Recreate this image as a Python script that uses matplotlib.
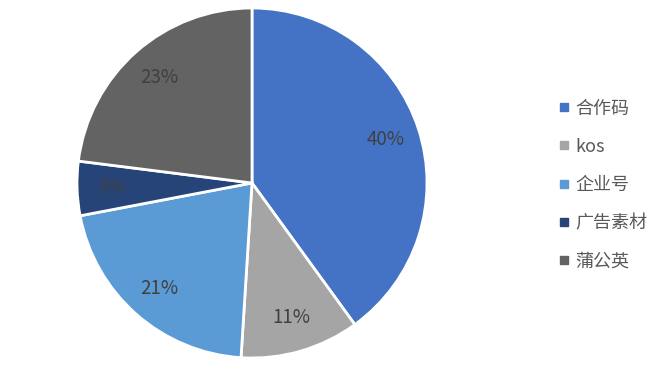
import matplotlib
matplotlib.use("Agg")
import matplotlib.pyplot as plt
from matplotlib.lines import Line2D

plt.rcParams['font.family'] = ['Noto Sans CJK SC', 'DejaVu Sans']

categories = ['合作码', 'kos', '企业号', '广告素材', '蒲公英']
values = [40, 11, 21, 5, 23]
colors = ['#4472C4', '#A5A5A5', '#5B9BD5', '#264478', '#636363']

fig = plt.figure(figsize=(6.6, 3.79), dpi=100)
ax = fig.add_axes([77/660, 21/379, 350/660, 350/379])
wedges, texts, autotexts = ax.pie(
    values, colors=colors, startangle=90, counterclock=False,
    autopct='%1.0f%%', pctdistance=0.8,
    wedgeprops=dict(edgecolor='white', linewidth=2),
    textprops=dict(color='#404040', fontsize=13.5))
ax.set_aspect('equal')
ax.set_xlim(-1, 1)
ax.set_ylim(-1, 1)

handles = [Line2D([], [], marker='s', linestyle='none', markersize=6,
                  markerfacecolor=c, markeredgecolor=c) for c in colors]
fig.legend(handles, categories, loc='center left', bbox_to_anchor=(539/660, 0.512),
           frameon=False, fontsize=13, labelspacing=1.12, handletextpad=0.1,
           handlelength=1.0, labelcolor='#595959')
fig.savefig('out.png', dpi=100)
